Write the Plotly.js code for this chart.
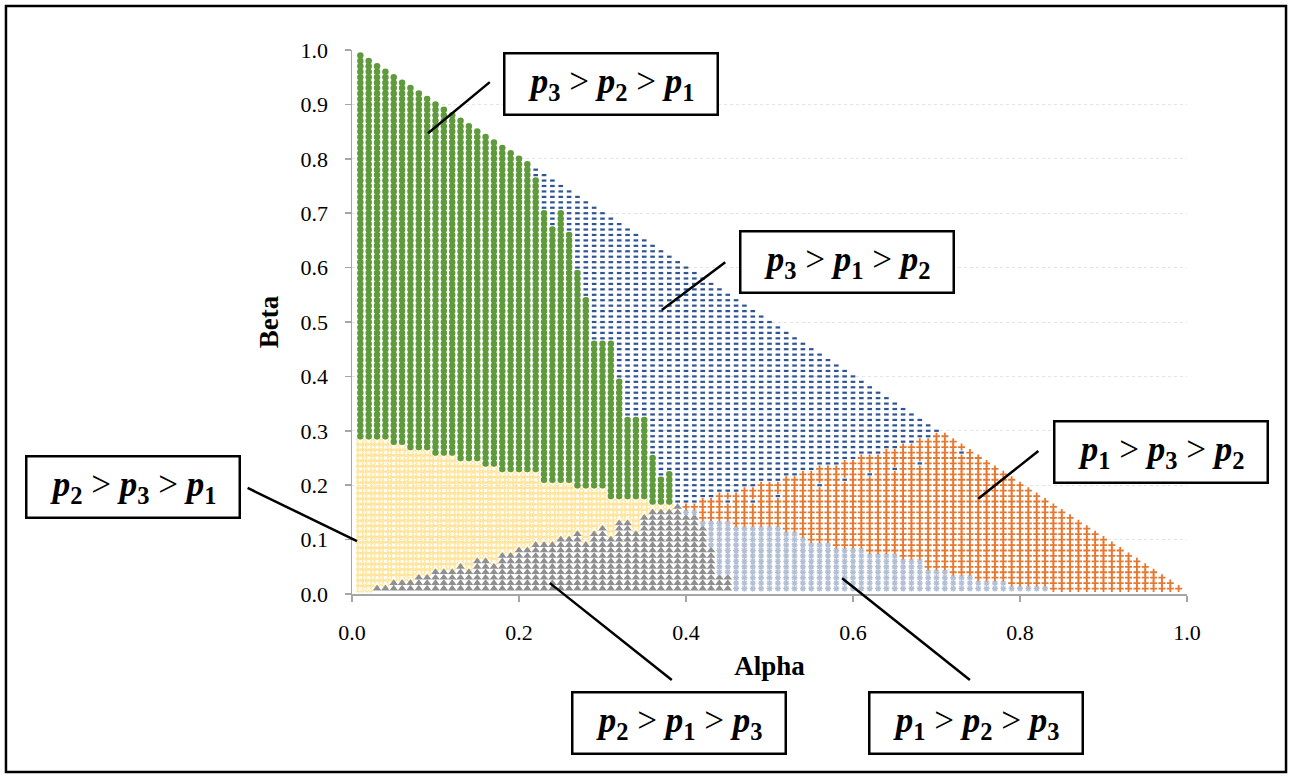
<!DOCTYPE html>
<html>
<head>
<meta charset="utf-8">
<script src="https://cdn.plot.ly/plotly-3.0.1.min.js"></script>
<style>html,body{margin:0;padding:0;background:#fff}#chart{width:1292px;height:778px}</style>
</head>
<body>
<div id="chart"></div>
<script>
// Alpha columns are 0.01 .. 0.99; beta rows are 0.01 steps up to alpha+beta = 1.
// For each alpha column (index 0 -> alpha 0.01) the highest beta row (in hundredths)
// of each ordering, stacked bottom to top:
// p2>p1>p3 (gray), p1>p2>p3 (light blue), p2>p3>p1 (yellow), p1>p3>p2 (orange), p3>p2>p1 (green), rest p3>p1>p2 (blue)
const grayTop = [0,0,1,1,2,2,2,3,3,4, 4,4,5,4,6,6,5,7,7,8, 8,9,9,9,10,10,11,9,11,12, 10,13,13,11,14,15,15,15,16,14, 14,12,8,3,3,0,0,0,0,0,
  0,0,0,0,0,0,0,0,0,0, 0,0,0,0,0,0,0,0,0,0, 0,0,0,0,0,0,0,0,0,0, 0,0,0,0,0,0,0,0,0,0, 0,0,0,0,0,0,0,0,0];
const lightBlueTop = [0,0,1,1,2,2,2,3,3,4, 4,4,5,4,6,6,5,7,7,8, 8,9,9,9,10,10,11,9,11,12, 10,13,13,11,14,15,15,15,16,15, 15,13,13,13,13,12,12,12,12,12,
  12,11,11,10,9,9,9,8,8,8, 8,7,7,7,7,6,6,6,4,4, 4,3,3,3,2,2,2,2,1,1, 1,1,1,0,0,0,0,0,0,0, 0,0,0,0,0,0,0,0,0];
const yellowTop = [28,28,28,28,27,27,26,26,26,25, 25,25,24,24,24,23,23,22,22,22, 22,22,20,20,20,20,19,19,19,19, 17,17,17,17,17,16,16,16,16,15, 15,13,13,13,13,12,12,12,12,12,
  12,11,11,10,9,9,9,8,8,8, 8,7,7,7,7,6,6,6,4,4, 4,3,3,3,2,2,2,2,1,1, 1,1,1,0,0,0,0,0,0,0, 0,0,0,0,0,0,0,0,0];
const orangeTop = [28,28,28,28,27,27,26,26,26,25, 25,25,24,24,24,23,23,22,22,22, 22,22,20,20,20,20,19,19,19,19, 17,17,17,17,17,16,16,16,16,16, 16,17,17,18,18,18,19,19,20,20,
  20,21,21,22,22,23,23,23,24,24, 25,25,25,26,26,27,27,28,28,29, 29,99,99,99,99,99,99,99,99,99, 99,99,99,99,99,99,99,99,99,99, 99,99,99,99,99,99,99,99,99];
const greenTop = [99,99,99,99,99,99,99,99,99,99, 99,99,99,99,99,99,99,99,99,99, 99,76,70,67,70,66,59,54,46,46, 46,39,32,32,32,25,21,22,16,16, 16,17,17,18,18,18,19,19,20,20,
  20,21,21,22,22,23,23,23,24,24, 25,25,25,26,26,27,27,28,28,29, 29,99,99,99,99,99,99,99,99,99, 99,99,99,99,99,99,99,99,99,99, 99,99,99,99,99,99,99,99,99];
// isolated p3>p1>p2 points inside the p1>p3>p2 area: [alpha column, beta row]
const strayBlue = [[45,17],[48,17],[51,18],[56,20],[59,21],[62,22],[65,23],[68,24],[73,26]];

const seriesNames = ['p3>p2>p1','p3>p1>p2','p1>p3>p2','p1>p2>p3','p2>p1>p3','p2>p3>p1'];
const seriesColors = ['#5F9A3C','#2F5597','#E5772F','#B2BFD4','#8F8F8F','#FFE396'];
const boxLabels = [[3,2,1],[3,1,2],[1,3,2],[2,3,1],[2,1,3],[1,2,3]];

const pts = {};
seriesNames.forEach(n => pts[n] = {x: [], y: []});
const strayKey = new Set(strayBlue.map(p => p[0] + '_' + p[1]));
for (let k = 1; k <= 99; k++) {
  const i = k - 1;
  const edge = 100 - k;
  for (let j = 1; j <= edge; j++) {
    let s;
    if (strayKey.has(k + '_' + j)) s = 'p3>p1>p2';
    else if (j <= grayTop[i]) s = 'p2>p1>p3';
    else if (j <= lightBlueTop[i]) s = 'p1>p2>p3';
    else if (j <= yellowTop[i]) s = 'p2>p3>p1';
    else if (j <= orangeTop[i]) s = 'p1>p3>p2';
    else if (j <= greenTop[i]) s = 'p3>p2>p1';
    else s = 'p3>p1>p2';
    pts[s].x.push(k / 100);
    pts[s].y.push(j / 100);
  }
}

const markerStyles = {
  'p3>p2>p1': {symbol: 'circle', size: 6.5, lw: 0},
  'p3>p1>p2': {symbol: 'line-ew', size: 3.3, lw: 2.2},
  'p1>p3>p2': {symbol: 'cross-thin', size: 5, lw: 1.8},
  'p1>p2>p3': {symbol: 'asterisk-open', size: 5, lw: 1.4},
  'p2>p1>p3': {symbol: 'triangle-up', size: 7.5, lw: 0},
  'p2>p3>p1': {symbol: 'x-open', size: 6.5, lw: 1.1}
};
const drawOrder = ['p2>p3>p1','p2>p1>p3','p1>p2>p3','p1>p3>p2','p3>p1>p2','p3>p2>p1'];
const traces = drawOrder.map(n => {
  const c = seriesColors[seriesNames.indexOf(n)];
  const st = markerStyles[n];
  return {
    type: 'scatter', mode: 'markers', name: n, x: pts[n].x, y: pts[n].y, cliponaxis: false,
    marker: {symbol: st.symbol, size: st.size, color: c, line: {color: c, width: st.lw}},
    hoverinfo: 'x+y+name'
  };
});

function labelText(o) {
  const p = d => '<b><i>p</i><sub>' + d + '</sub></b>';
  return p(o[0]) + ' &gt; ' + p(o[1]) + ' &gt; ' + p(o[2]);
}
const boxPos = [[0.310,0.938],[0.593,0.611],[0.969,0.261],[-0.262,0.197],[0.392,-0.237],[0.747,-0.237]];
const leaders = [[0.165,0.941,0.091,0.847],[0.447,0.610,0.371,0.522],[0.822,0.263,0.750,0.175],
  [-0.125,0.195,0.006,0.097],[0.237,0.020,0.383,-0.158],[0.587,0.029,0.740,-0.158]];

const serif = '"Liberation Serif", "Times New Roman", serif';
const annotations = boxLabels.map((o, i) => ({
  xref: 'paper', yref: 'paper', x: boxPos[i][0], y: boxPos[i][1], xanchor: 'center', yanchor: 'middle',
  text: labelText(o), showarrow: false, bgcolor: '#ffffff', bordercolor: '#000000', borderwidth: 2.5,
  borderpad: 0, width: 211, height: 59, font: {family: serif, size: 35, color: '#000'}
}));
const shapes = leaders.map(l => ({type: 'line', xref: 'paper', yref: 'paper', x0: l[0], y0: l[1], x1: l[2], y1: l[3],
  line: {color: '#000', width: 2.5}}));
shapes.push({type: 'rect', xref: 'paper', yref: 'paper', x0: -0.4144, x1: 1.1186, y0: -0.3272, y1: 1.0809,
  line: {color: '#000', width: 2.5}, fillcolor: 'rgba(0,0,0,0)', layer: 'below'});

const layout = {
  width: 1292, height: 778,
  margin: {l: 352, r: 105, t: 50, b: 184},
  paper_bgcolor: '#fff', plot_bgcolor: '#fff',
  showlegend: false,
  font: {family: serif, size: 22, color: '#000'},
  xaxis: {range: [0, 1], dtick: 0.2, tick0: 0, tickformat: '.1f', showgrid: false, zeroline: false,
    showline: true, linecolor: '#A6A6A6', linewidth: 1.5, ticks: 'outside', ticklen: 6, tickcolor: '#A6A6A6', tickwidth: 1.5,
    tickfont: {family: serif, size: 22}, ticklabelstandoff: 12, fixedrange: true,
    title: {text: '<b>Alpha</b>', font: {family: serif, size: 27}, standoff: 12}},
  yaxis: {range: [0, 1], dtick: 0.1, tick0: 0, tickformat: '.1f', showgrid: true, gridcolor: '#E3E3E3', griddash: 'dot', gridwidth: 1,
    zeroline: false, showline: true, linecolor: '#A6A6A6', linewidth: 1.5, ticks: 'outside', ticklen: 6, tickcolor: '#A6A6A6', tickwidth: 1.5,
    tickfont: {family: serif, size: 22}, ticklabelstandoff: 12, fixedrange: true,
    title: {text: '<b>Beta</b>', font: {family: serif, size: 27}, standoff: 14}},
  annotations: annotations,
  shapes: shapes
};
Plotly.newPlot('chart', traces, layout, {displayModeBar: false, staticPlot: true});
</script>
</body>
</html>
